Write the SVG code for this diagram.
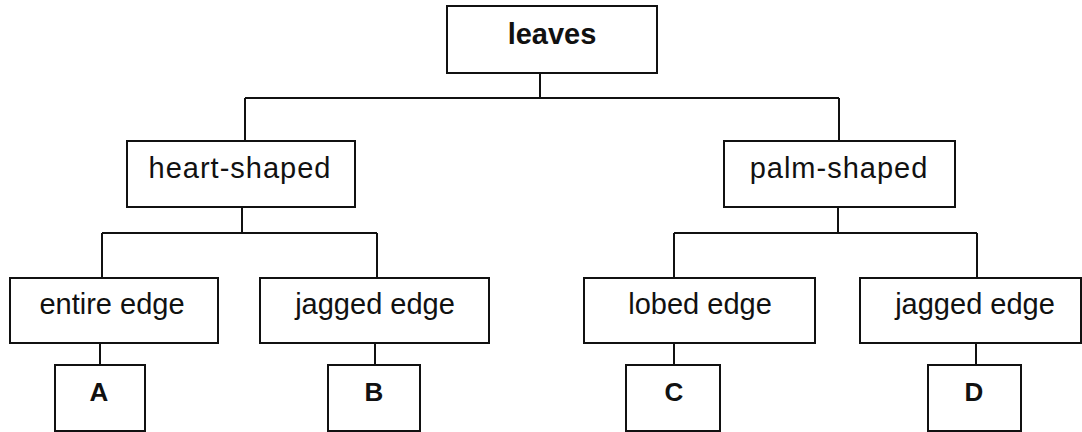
<svg xmlns="http://www.w3.org/2000/svg" width="1082" height="432" viewBox="0 0 1082 432">
<style>
.box{fill:#fff;stroke:#111;stroke-width:2}
.lbl{font-family:"Liberation Sans",Arial,sans-serif;font-size:29px;fill:#111;text-anchor:middle}
.b{font-weight:bold}
.let{font-size:26px;font-weight:bold}
.con{fill:none;stroke:#111;stroke-width:2}
</style>
<rect width="1082" height="432" fill="#fff"/>
<g id="connectors" class="con">
<path d="M540,73 V98 M245,98 H839 M245,98 V141 M839,98 V141"/>
<path d="M242,207 V233 M102,233 H377 M102,233 V278 M377,233 V278"/>
<path d="M838,207 V233 M674,233 H977 M674,233 V278 M977,233 V278"/>
<path d="M100,343 V365 M375,343 V365 M674,343 V365 M976,343 V365"/>
</g>
<g id="leaves"><rect class="box" x="447" y="6" width="210" height="67"/><text class="lbl b" x="552" y="44">leaves</text></g>
<g id="heart"><rect class="box" x="127" y="141" width="228" height="66"/><text class="lbl" x="240" y="178" letter-spacing="1">heart-shaped</text></g>
<g id="palm"><rect class="box" x="724" y="141" width="231" height="66"/><text class="lbl" x="839" y="178" letter-spacing="1">palm-shaped</text></g>
<g id="entire"><rect class="box" x="10" y="278" width="208" height="65"/><text class="lbl" x="112" y="314">entire edge</text></g>
<g id="jagged1"><rect class="box" x="260" y="278" width="229" height="65"/><text class="lbl" x="375" y="314">jagged edge</text></g>
<g id="lobed"><rect class="box" x="584" y="278" width="231" height="65"/><text class="lbl" x="700" y="314">lobed edge</text></g>
<g id="jagged2"><rect class="box" x="860" y="278" width="221" height="65"/><text class="lbl" x="975" y="314">jagged edge</text></g>
<g id="A"><rect class="box" x="55" y="365" width="90" height="66"/><text class="lbl let" x="99" y="401">A</text></g>
<g id="B"><rect class="box" x="328" y="365" width="92" height="66"/><text class="lbl let" x="374" y="401">B</text></g>
<g id="C"><rect class="box" x="626" y="365" width="94" height="66"/><text class="lbl let" x="674" y="401">C</text></g>
<g id="D"><rect class="box" x="928" y="365" width="93" height="66"/><text class="lbl let" x="974" y="401">D</text></g>
</svg>
